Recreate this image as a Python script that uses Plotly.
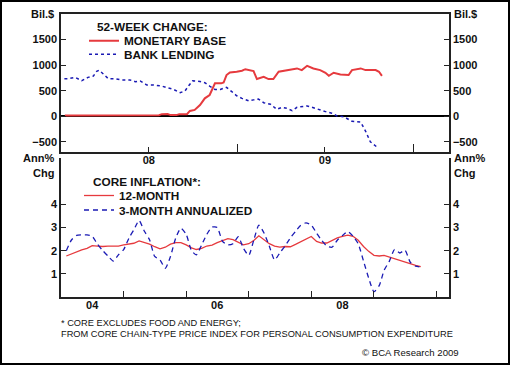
import plotly.graph_objects as go
import pandas as pd

# ---------------- data ----------------
# Top panel: 52-week change, Bil.$
mb_dates = ["2008-01-09", "2008-03-01", "2008-05-01", "2008-07-01", "2008-07-22", "2008-07-28",
            "2008-08-09", "2008-08-15", "2008-08-27", "2008-09-02", "2008-09-18", "2008-09-24",
            "2008-10-04", "2008-10-15", "2008-10-25", "2008-11-04", "2008-11-11", "2008-11-15",
            "2008-11-28", "2008-12-03", "2008-12-09", "2008-12-16", "2008-12-30", "2009-01-10",
            "2009-01-17", "2009-01-25", "2009-02-03", "2009-02-10", "2009-02-24", "2009-03-06",
            "2009-03-16", "2009-03-27", "2009-04-07", "2009-04-20", "2009-05-04", "2009-05-14",
            "2009-05-25", "2009-06-07", "2009-06-21", "2009-07-02", "2009-07-09", "2009-07-19",
            "2009-08-02", "2009-08-19", "2009-08-26", "2009-09-13", "2009-09-23", "2009-10-14",
            "2009-10-21", "2009-10-27"]
monetary_base = [15, 15, 15, 15, 20, 40, 42, 22, 22, 38, 40, 104, 123, 220, 350, 415, 545, 643,
                 643, 660, 805, 857, 870, 890, 920, 905, 883, 727, 772, 727, 727, 870, 890, 922,
                 935, 902, 986, 935, 902, 850, 790, 850, 818, 805, 902, 935, 902, 902, 870, 790]

bl_dates = ["2008-01-08", "2008-01-16", "2008-01-30", "2008-02-13", "2008-02-26", "2008-03-08",
            "2008-03-15", "2008-03-20", "2008-03-29", "2008-04-08", "2008-04-22", "2008-05-06",
            "2008-05-23", "2008-06-03", "2008-06-13", "2008-06-27", "2008-07-11", "2008-07-28",
            "2008-08-07", "2008-08-21", "2008-09-04", "2008-09-14", "2008-09-22", "2008-09-30",
            "2008-10-15", "2008-10-25", "2008-11-04", "2008-11-15", "2008-11-26", "2008-12-09",
            "2008-12-20", "2008-12-30", "2009-01-10", "2009-01-24", "2009-02-03", "2009-02-13",
            "2009-02-24", "2009-03-10", "2009-03-23", "2009-04-03", "2009-04-13", "2009-04-24",
            "2009-05-04", "2009-05-14", "2009-05-25", "2009-06-04", "2009-06-18", "2009-07-02",
            "2009-07-15", "2009-07-26", "2009-08-09", "2009-08-26", "2009-09-13", "2009-09-23",
            "2009-10-03", "2009-10-17"]
bank_lending = [735, 735, 760, 695, 760, 785, 880, 900, 825, 735, 735, 710, 710, 675, 690, 610,
                610, 590, 560, 525, 460, 495, 600, 695, 680, 655, 590, 525, 525, 565, 480, 400,
                350, 300, 320, 335, 265, 235, 135, 175, 155, 110, 175, 180, 200, 175, 125, 90,
                60, 5, -10, -100, -115, -290, -500, -605]

# Bottom panel: core inflation, Ann% Chg (monthly, Feb 2004 - Oct 2009)
infl_dates = pd.date_range("2004-02-01", periods=69, freq="MS")
core_12m = [1.77, 1.86, 1.96, 2.03, 2.10, 2.22, 2.20, 2.18, 2.20, 2.20, 2.20, 2.25,
            2.30, 2.32, 2.42, 2.36, 2.28, 2.17, 2.08, 2.15, 2.28, 2.35, 2.35, 2.25,
            2.12, 2.05, 2.10, 2.20, 2.24, 2.35, 2.44, 2.52, 2.48, 2.38, 2.25, 2.30,
            2.45, 2.64, 2.47, 2.30, 2.20, 2.15, 2.18, 2.17, 2.27, 2.38, 2.50, 2.61,
            2.40, 2.33, 2.33, 2.45, 2.55, 2.62, 2.67, 2.62, 2.45, 2.18, 1.97, 1.80,
            1.77, 1.80, 1.72, 1.67, 1.58, 1.50, 1.42, 1.36, 1.31]
core_3m_ann = [2.00, 2.45, 2.66, 2.68, 2.68, 2.62, 2.28, 2.00, 1.77, 1.55, 1.82, 2.05,
               2.55, 2.90, 3.30, 2.85, 2.47, 1.75, 1.60, 1.24, 1.75, 2.55, 2.97, 2.70,
               2.00, 1.82, 2.25, 2.70, 3.02, 3.00, 2.40, 2.25, 2.30, 2.60, 2.10, 1.80,
               2.50, 3.10, 2.75, 2.20, 1.60, 1.90, 2.20, 2.55, 2.83, 3.10, 3.20, 3.10,
               2.76, 2.45, 2.20, 2.15, 2.45, 2.65, 2.83, 2.62, 2.30, 1.55, 0.82, 0.23,
               0.50, 1.15, 1.55, 2.05, 1.90, 2.02, 1.50, 1.33, 1.30]

top_yticks = [-500, 0, 500, 1000, 1500]
bot_yticks = [1, 2, 3, 4, 6]
bot_yticktext = ["1", "2", "3", "4", ""]
top_xlabels = ["08", "09"]
top_xlabel_pos = ["2008-07-01", "2009-07-01"]
top_year_ticks = ["2009-01-01", "2010-01-01"]
bot_xlabels = ["04", "06", "08"]
bot_xlabel_pos = ["2004-07-01", "2006-07-01", "2008-07-01"]
bot_year_ticks = ["2005-01-01", "2006-01-01", "2007-01-01", "2008-01-01", "2009-01-01", "2010-01-01"]

# ---------------- style ----------------
FONT = "Liberation Sans, Arial, sans-serif"
RED = "#e63a3e"
BLUE = "#1a1ab4"
AX = "#222222"
tickf = dict(family=FONT, size=11, color="#111111", weight="bold")
legf = dict(family=FONT, size=11.8, color="#111111", weight="bold")

fig = go.Figure()
fig.add_trace(go.Scatter(x=mb_dates, y=monetary_base, mode="lines", name="MONETARY BASE",
                         line=dict(color=RED, width=2), xaxis="x", yaxis="y", legend="legend"))
fig.add_trace(go.Scatter(x=bl_dates, y=bank_lending, mode="lines", name="BANK LENDING",
                         line=dict(color=BLUE, width=1.5, dash="3px,3px"), xaxis="x3", yaxis="y3",
                         legend="legend3"))
fig.add_trace(go.Scatter(x=infl_dates, y=core_12m, mode="lines", name="12-MONTH",
                         line=dict(color=RED, width=1.3), xaxis="x2", yaxis="y2", legend="legend2"))
fig.add_trace(go.Scatter(x=infl_dates, y=core_3m_ann, mode="lines", name="3-MONTH ANNUALIZED",
                         line=dict(color=BLUE, width=1.3, dash="5px,4px", shape="spline",
                                   smoothing=0.6),
                         xaxis="x4", yaxis="y4", legend="legend4"))

W, H = 510, 365
ML, MR, MT, MB = 61, 61, 14, 68
PW, PH = W - ML - MR, H - MT - MB


def px(x):
    return (x - ML) / PW


def py(y):
    return (H - MB - y) / PH


top_dom = [py(152), 1.0]
bot_dom = [0.0, py(158)]
TOP_RANGE = ["2008-01-01", "2010-03-15"]
BOT_RANGE = ["2004-01-01", "2010-03-15"]

yaxis_common = dict(showline=True, linecolor=AX, linewidth=1.5, ticks="inside", ticklen=5,
                    tickcolor=AX, tickwidth=1.2, showgrid=False, tickfont=tickf, zeroline=False)


def leg(x, y):
    return dict(x=px(x), y=py(y), xanchor="left", yanchor="middle", bgcolor="rgba(0,0,0,0)",
                font=legf, itemwidth=30)


fig.update_layout(
    width=W, height=H,
    margin=dict(l=ML, r=MR, t=MT, b=MB),
    paper_bgcolor="white", plot_bgcolor="white",
    font=dict(family=FONT, color="#111111"),
    # top panel: year-start ticks (long) + mid-year labelled ticks (short, overlay axis)
    xaxis=dict(domain=[0, 1], anchor="y", type="date", range=TOP_RANGE,
               showline=True, linecolor=AX, linewidth=1.5, mirror=True, showgrid=False,
               ticks="inside", ticklen=8, tickcolor=AX, tickwidth=1.2,
               tickvals=top_year_ticks, showticklabels=False),
    xaxis3=dict(overlaying="x", anchor="y", side="bottom", type="date", range=TOP_RANGE,
                showline=False, showgrid=False, ticks="inside", ticklen=5, tickcolor=AX,
                tickwidth=1.2, tickvals=top_xlabel_pos, ticktext=top_xlabels, tickfont=tickf),
    yaxis=dict(domain=top_dom, anchor="x", range=[-700, 2000], tickvals=top_yticks,
               **{**yaxis_common, "zeroline": True}, zerolinecolor="black", zerolinewidth=1.5),
    yaxis3=dict(overlaying="y", side="right", anchor="x", range=[-700, 2000],
                tickvals=top_yticks, **yaxis_common),
    # bottom panel
    xaxis2=dict(domain=[0, 1], anchor="y2", type="date", range=BOT_RANGE,
                showline=True, linecolor=AX, linewidth=1.5, showgrid=False,
                ticks="inside", ticklen=6, tickcolor=AX, tickwidth=1.2,
                tickvals=bot_year_ticks, showticklabels=False),
    xaxis4=dict(overlaying="x2", anchor="y2", side="bottom", type="date", range=BOT_RANGE,
                showline=False, showgrid=False, ticks="",
                tickvals=bot_xlabel_pos, ticktext=bot_xlabels, tickfont=tickf),
    yaxis2=dict(domain=bot_dom, anchor="x2", range=[0, 6], tickvals=bot_yticks,
                ticktext=bot_yticktext, **yaxis_common),
    yaxis4=dict(overlaying="y2", side="right", anchor="x2", range=[0, 6], tickvals=bot_yticks,
                ticktext=bot_yticktext, **yaxis_common),
    legend=leg(84, 40.7),
    legend3=leg(84, 54.3),
    legend2=leg(79, 195.5),
    legend4=leg(79, 210),
    showlegend=True,
)

ann = []


def add(text, x, y, xa, font):
    ann.append(dict(text=text, x=px(x), y=py(y), xref="paper", yref="paper", xanchor=xa,
                    yanchor="middle", showarrow=False, font=font))


small = dict(family=FONT, size=9.25, color="#111111")
add("52-WEEK CHANGE:", 95, 27, "left", legf)
add("CORE INFLATION*:", 91, 181.7, "left", legf)
add("Bil.$", 56, 14, "right", tickf)
add("Bil.$", 452, 14, "left", tickf)
add("Ann%", 56, 158, "right", tickf)
add("Chg", 56, 173, "right", tickf)
add("Ann%", 452, 158, "left", tickf)
add("Chg", 452, 173, "left", tickf)
add("* CORE EXCLUDES FOOD AND ENERGY;", 59, 323, "left", small)
add("FROM CORE CHAIN-TYPE PRICE INDEX FOR PERSONAL CONSUMPTION EXPENDITURE", 59, 334, "left",
    small)
add("© BCA Research 2009", 461, 352, "right", dict(family=FONT, size=9.6, color="#111111"))
fig.update_layout(annotations=ann)

fig.add_shape(type="rect", xref="paper", yref="paper",
              x0=px(1), x1=px(509), y0=py(364), y1=py(1),
              line=dict(color="black", width=2), fillcolor="rgba(0,0,0,0)", layer="above")

fig.write_html("out.html", config={"displayModeBar": False},
               post_script="document.body.style.margin='0';")
